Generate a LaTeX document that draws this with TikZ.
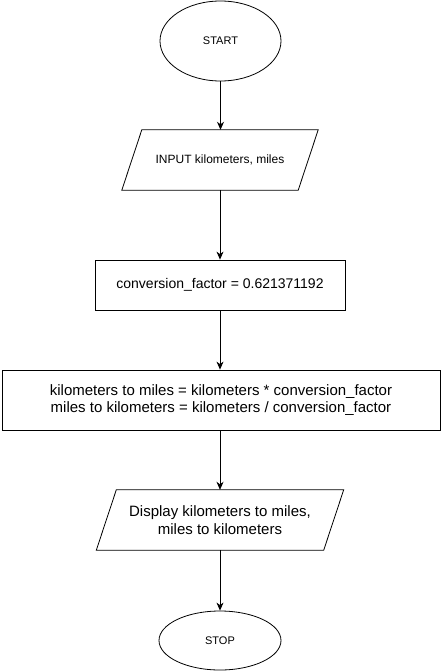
\documentclass[tikz,border=0pt]{standalone}
\usepackage{fontspec}
\setmainfont{Liberation Sans}
\usepackage{tikz}
\usetikzlibrary{
  positioning,
  arrows.meta,
  shapes.geometric
}
\tikzstyle{flow}=[->, >={Stealth[length=8pt, width=7pt, inset=2.5pt]}, line width=0.8pt]
\tikzstyle{terminal}=[draw, ellipse, line width=0.8pt, inner sep=0pt, font=\fontsize{11}{13}\selectfont]
\tikzstyle{process}=[draw, rectangle, line width=0.8pt, inner sep=0pt, align=center]
\tikzstyle{io}=[rectangle, minimum height=60pt, inner sep=0pt, align=center]
% 平行四辺形の枠
\newcommand{\ioframe}[1]{%
  \draw[line width=0.8pt] ([xshift=-10pt]#1.south west) -- ([xshift=10pt]#1.north west)
    -- ([xshift=10pt]#1.north east) -- ([xshift=-10pt]#1.south east) -- cycle;}

\begin{document}
\begin{tikzpicture}[x=1pt, y=-1pt]
    \def\cx{220};

    % 画像の範囲
    \useasboundingbox (0,0) rectangle (441,671);

    % 開始
    \node[terminal, minimum width=121pt, minimum height=80pt] (start) at (220.5,41) {START};

    % 入力
    \node[io, minimum width=176pt, font=\fontsize{12}{14}\selectfont]
      (input) at (\cx,160) {INPUT kilometers, miles};
    \ioframe{input}

    % 変換係数
    \node[process, minimum width=250pt, minimum height=50pt, font=\fontsize{14}{16}\selectfont]
      (factor) at (\cx,285) {conversion\_factor = 0.621371192};

    % 計算
    \node[process, minimum width=438pt, minimum height=60pt, font=\fontsize{15}{17.3}\selectfont]
      (calc) at (221,400) {kilometers to miles = kilometers * conversion\_factor\\
        miles to kilometers = kilometers / conversion\_factor};

    % 出力
    \node[io, minimum width=227pt, font=\fontsize{15}{18}\selectfont]
      (display) at (\cx,520) {Display kilometers to miles,\\miles to kilometers};
    \ioframe{display}

    % 終了
    \node[terminal, minimum width=122pt, minimum height=59pt] (stop) at (\cx,640.5) {STOP};

    % 矢印
    \draw[flow] (start.south) -- (start.south |- input.north);
    \draw[flow] (input.south) -- (input.south |- factor.north);
    \draw[flow] (factor.south) -- (factor.south |- calc.north);
    \draw[flow] (display.north |- calc.south) -- (display.north);
    \draw[flow] (display.south) -- (stop.north);
\end{tikzpicture}
\end{document}
